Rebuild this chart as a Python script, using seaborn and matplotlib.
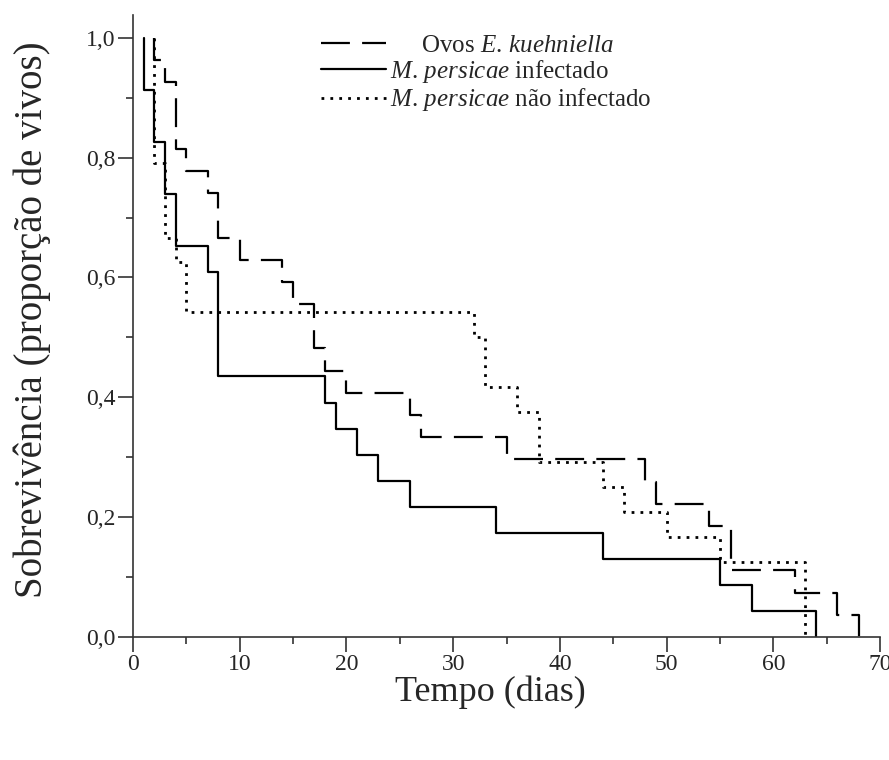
import numpy as np
import pandas as pd
import matplotlib
matplotlib.use('Agg')
import matplotlib.pyplot as plt
import seaborn as sns
from matplotlib.ticker import MultipleLocator

# dias em que houve morte e numero de mortos nesse dia (sem censura)
kuehniella_dias = [2, 3, 4, 5, 7, 8, 10, 14, 15, 17, 18, 20, 26, 27, 35, 48, 49, 54, 56, 62, 66, 68]
kuehniella_mortos = [1, 1, 3, 1, 1, 2, 1, 1, 1, 2, 1, 1, 1, 1, 1, 1, 1, 1, 2, 1, 1, 1]
infectado_dias = [1, 2, 3, 4, 7, 8, 18, 19, 21, 23, 26, 34, 44, 55, 58, 64]
infectado_mortos = [2, 2, 2, 2, 1, 4, 1, 1, 1, 1, 1, 1, 1, 1, 1, 1]
nao_infectado_dias = [2, 3, 4, 5, 32, 33, 36, 38, 44, 46, 50, 55, 63]
nao_infectado_mortos = [5, 3, 1, 2, 1, 2, 1, 2, 1, 1, 1, 1, 3]

rotulos = ['     Ovos $\\mathit{E.\\,kuehniella}$',
           '$\\mathit{M.\\,persicae}$ infectado',
           '$\\mathit{M.\\,persicae}$ não infectado']

x_ticks = [0, 10, 20, 30, 40, 50, 60, 70]
y_ticks = [0.0, 0.2, 0.4, 0.6, 0.8, 1.0]
y_tick_labels = ['0,0', '0,2', '0,4', '0,6', '0,8', '1,0']

sns.set_style('ticks')
plt.rcParams['font.family'] = ['Liberation Serif', 'DejaVu Serif']
plt.rcParams['mathtext.fontset'] = 'custom'
plt.rcParams['mathtext.rm'] = 'Liberation Serif'
plt.rcParams['mathtext.it'] = 'Liberation Serif:italic'

fig = plt.figure(figsize=(8.89, 7.6), dpi=100)
ax = fig.add_axes([133 / 889, 1 - 637 / 760, 747 / 889, 622 / 760])

lw = 1.6
sns.ecdfplot(x=kuehniella_dias, weights=kuehniella_mortos, complementary=True, ax=ax,
             color='black', lw=lw, dashes=(13, 5.5), label=rotulos[0])
sns.ecdfplot(x=infectado_dias, weights=infectado_mortos, complementary=True, ax=ax,
             color='black', lw=lw, label=rotulos[1])
sns.ecdfplot(x=nao_infectado_dias, weights=nao_infectado_mortos, complementary=True, ax=ax,
             color='black', lw=2.0, dashes=(1, 2.2), label=rotulos[2])

ax.set_xlim(0, 70)
ax.set_ylim(0, 1.038)
ax.set_xticks(x_ticks)
ax.xaxis.set_minor_locator(MultipleLocator(5))
ax.set_yticks(y_ticks)
ax.set_yticklabels(y_tick_labels)
ax.yaxis.set_minor_locator(MultipleLocator(0.1))

for s in ['top', 'right']:
    ax.spines[s].set_visible(False)
for s in ['left', 'bottom']:
    ax.spines[s].set_color('#333333')
    ax.spines[s].set_linewidth(1.2)
ax.tick_params(which='major', length=10.5, width=1.2, color='#333333', labelsize=17, pad=2)
ax.tick_params(which='minor', length=5, width=1.2, color='#333333')

ax.set_xlabel('Tempo (dias)', fontsize=26)
ax.set_ylabel('Sobrevivência (proporção de vivos)', fontsize=28)
ax.xaxis.set_label_coords(0.478, -0.062)
ax.yaxis.set_label_coords(-0.11, 0.51)

ax.legend(loc='upper left', bbox_to_anchor=(0.238, 0.985), frameon=False, fontsize=18,
          handlelength=2.6, handletextpad=0.15, labelspacing=0.05, borderaxespad=0)

fig.savefig('out.png', dpi=100)
